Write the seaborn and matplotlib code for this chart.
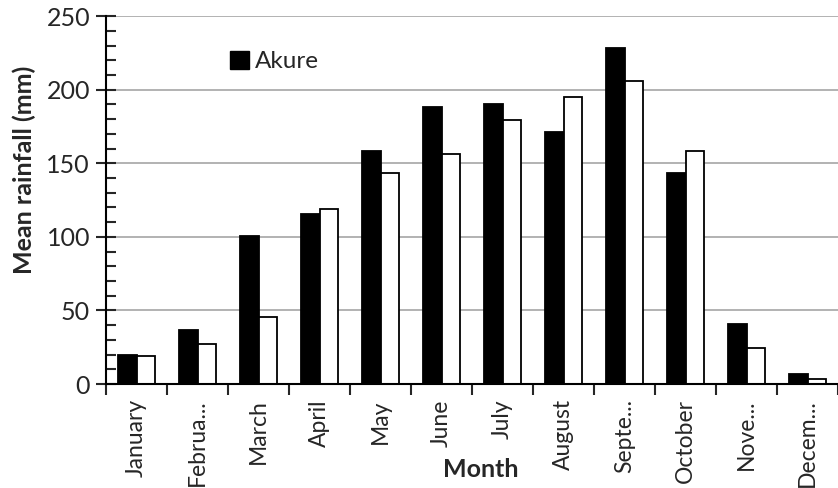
import numpy as np
import pandas as pd
import seaborn as sns
import matplotlib.pyplot as plt
from matplotlib.ticker import MultipleLocator
from matplotlib.patches import Patch

# -----------------------------
# Data
# -----------------------------
months = ["January", "Februa...", "March", "April", "May", "June",
          "July", "August", "Septe...", "October", "Nove...", "Decem..."]
akure = [19.5, 36.7, 100.7, 115.3, 158.3, 188.4, 190.2, 171.4, 228.3, 143.5, 40.8, 6.6]
second = [19.0, 27.4, 45.5, 119.1, 143.1, 156.3, 179.1, 194.8, 205.8, 158.5, 24.5, 3.2]
stations = ["Akure", "Station 2"]

df = pd.DataFrame({
    "Month": months * 2,
    "Rainfall": akure + second,
    "Station": [stations[0]] * 12 + [stations[1]] * 12,
})

# -----------------------------
# Plot
# -----------------------------
sns.set_style("white")
plt.rcParams["font.family"] = ["Lato", "DejaVu Sans"]

fig = plt.figure(figsize=(8.38, 4.88), dpi=100)
ax = fig.add_axes([0.1265, 0.213, 0.8735, 0.754])

sns.barplot(data=df, x="Month", y="Rainfall", hue="Station", order=months,
            hue_order=stations, palette=["black", "white"], edgecolor="black",
            linewidth=1.3, width=0.62, ax=ax, legend=False)

ax.set_ylim(0, 250)
ax.set_xlim(-0.5, 11.5)
ax.yaxis.set_major_locator(MultipleLocator(50))
ax.yaxis.set_minor_locator(MultipleLocator(10))
ax.grid(axis="y", which="major", color="#a6a6a6", linewidth=1.2)
ax.set_axisbelow(True)

for side in ["top", "right"]:
    ax.spines[side].set_visible(False)
for side in ["left", "bottom"]:
    ax.spines[side].set_color("black")
    ax.spines[side].set_linewidth(1.5)

ax.tick_params(axis="y", which="major", direction="inout", length=15, width=1.5,
               labelsize=18, pad=4, left=True)
ax.tick_params(axis="y", which="minor", direction="in", length=7, width=1.5, left=True)

ax.set_xticks(range(len(months)))
ax.set_xticklabels(months, rotation=90, fontsize=16.5)
ax.tick_params(axis="x", which="major", length=0, pad=11)
ax.set_xticks(np.arange(-0.5, len(months), 1), minor=True)
ax.tick_params(axis="x", which="minor", direction="out", length=8, width=1.5, bottom=True)

ax.set_xlabel("")
ax.set_ylabel("")
fig.text(0.029, 0.652, "Mean rainfall (mm)", fontsize=18, fontweight="bold",
         rotation=90, ha="center", va="center")
fig.text(0.574, 0.037, "Month", fontsize=18, fontweight="bold", ha="center", va="center")

ax.legend(handles=[Patch(facecolor="black", edgecolor="black", label="Akure")],
          loc="upper left", bbox_to_anchor=(0.14, 0.965), frameon=False,
          fontsize=17.5, handlelength=0.75, handleheight=0.75, handletextpad=0.25)

plt.savefig("out.png", dpi=100)
plt.close()
